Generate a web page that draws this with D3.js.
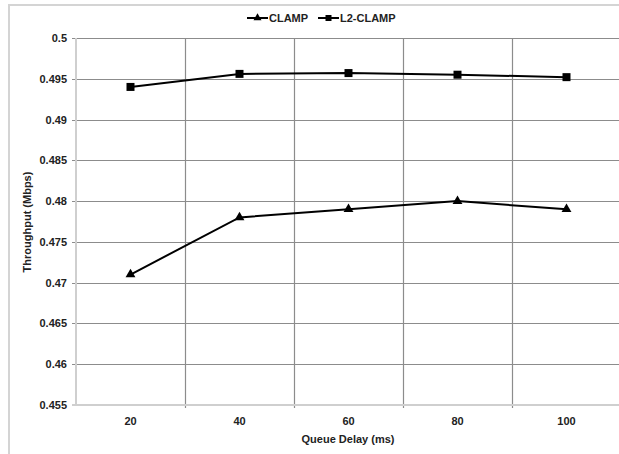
<!DOCTYPE html>
<html>
<head>
<meta charset="utf-8">
<script src="https://cdn.jsdelivr.net/npm/d3@7"></script>
<style>
  body { margin: 0; background: #fff; }
  svg { display: block; font-family: Arial, "Liberation Sans", sans-serif; }
</style>
</head>
<body>
<div id="chart"></div>
<script>
const w = 619;
const h = 454;

var delays = ["20", "40", "60", "80", "100"];
var clamp = [0.471, 0.478, 0.479, 0.480, 0.479];
var l2clamp = [0.494, 0.4956, 0.4957, 0.4955, 0.4952];
var yTicks = [0.455, 0.46, 0.465, 0.47, 0.475, 0.48, 0.485, 0.49, 0.495, 0.5];

var margin = { left: 76, top: 38, right: -2, bottom: 49 };

var svg = d3.select("#chart")
    .append("svg")
    .attr("width", w)
    .attr("height", h);

// outer frame
svg.append("rect")
    .attr("x", 9).attr("y", 5)
    .attr("width", 640).attr("height", 480)
    .attr("fill", "none")
    .attr("stroke", "#d4d4d4")
    .attr("stroke-width", 2);

var x = d3.scaleBand()
    .domain(delays)
    .range([margin.left, w - margin.right]);

var y = d3.scaleLinear()
    .domain([0.455, 0.5])
    .range([h - margin.bottom, margin.top]);

// horizontal gridlines
svg.selectAll("line.hgrid")
    .data(yTicks.slice(1))
    .enter()
    .append("line")
    .attr("class", "hgrid")
    .attr("x1", margin.left - 4)
    .attr("x2", w)
    .attr("y1", function(d) { return Math.round(y(d)) + 0.5; })
    .attr("y2", function(d) { return Math.round(y(d)) + 0.5; })
    .attr("stroke", "#8c8c8c")
    .attr("stroke-width", 1.2);

// vertical gridlines between categories
svg.selectAll("line.vgrid")
    .data(delays.slice(1))
    .enter()
    .append("line")
    .attr("class", "vgrid")
    .attr("x1", function(d) { return Math.round(x(d)) + 0.5; })
    .attr("x2", function(d) { return Math.round(x(d)) + 0.5; })
    .attr("y1", y(0.5))
    .attr("y2", y(0.455) + 3)
    .attr("stroke", "#8c8c8c")
    .attr("stroke-width", 1.2);

// axes (light gray)
svg.append("line")
    .attr("x1", margin.left).attr("x2", margin.left)
    .attr("y1", y(0.5)).attr("y2", y(0.455) + 1)
    .attr("stroke", "#cfcfcf").attr("stroke-width", 2);
svg.append("line")
    .attr("x1", margin.left - 4).attr("x2", w)
    .attr("y1", y(0.455)).attr("y2", y(0.455))
    .attr("stroke", "#cfcfcf").attr("stroke-width", 2);

// y tick labels
svg.selectAll("text.ytick")
    .data(yTicks)
    .enter()
    .append("text")
    .attr("class", "ytick")
    .attr("x", margin.left - 9)
    .attr("y", function(d) { return y(d) + 4; })
    .attr("text-anchor", "end")
    .attr("font-size", 11)
    .attr("font-weight", "bold")
    .attr("fill", "#222")
    .text(function(d) { return d3.format("")(+d.toFixed(3)); });

// x tick labels
svg.selectAll("text.xtick")
    .data(delays)
    .enter()
    .append("text")
    .attr("class", "xtick")
    .attr("x", function(d) { return x(d) + x.bandwidth() / 2; })
    .attr("y", y(0.455) + 20)
    .attr("text-anchor", "middle")
    .attr("font-size", 11)
    .attr("font-weight", "bold")
    .attr("fill", "#222")
    .text(function(d) { return d; });

// axis titles
svg.append("text")
    .attr("x", 348)
    .attr("y", 443)
    .attr("text-anchor", "middle")
    .attr("font-size", 11)
    .attr("font-weight", "bold")
    .attr("fill", "#222")
    .text("Queue Delay (ms)");

svg.append("text")
    .attr("transform", "translate(31," + 222 + ") rotate(-90)")
    .attr("text-anchor", "middle")
    .attr("font-size", 11)
    .attr("font-weight", "bold")
    .attr("fill", "#222")
    .text("Throughput (Mbps)");

var line = d3.line()
    .x(function(d, i) { return x(delays[i]) + x.bandwidth() / 2; })
    .y(function(d) { return y(d); });

var tri = d3.symbol().type(d3.symbolTriangle).size(42);
var sq = d3.symbol().type(d3.symbolSquare).size(64);

function drawSeries(values, sym) {
    svg.append("path")
        .datum(values)
        .attr("fill", "none")
        .attr("stroke", "#000")
        .attr("stroke-width", 2)
        .attr("d", line);
    svg.selectAll(null)
        .data(values)
        .enter()
        .append("path")
        .attr("transform", function(d, i) {
            return "translate(" + (x(delays[i]) + x.bandwidth() / 2) + "," + y(d) + ")";
        })
        .attr("d", sym)
        .attr("fill", "#000");
}

drawSeries(clamp, tri);
drawSeries(l2clamp, sq);

// legend
var legend = [
    { name: "CLAMP", sym: tri, x: 247 },
    { name: "L2-CLAMP", sym: sq, x: 318 }
];
var lg = svg.selectAll("g.legend")
    .data(legend)
    .enter()
    .append("g")
    .attr("class", "legend")
    .attr("transform", function(d) { return "translate(" + d.x + ",18)"; });
lg.append("line")
    .attr("x1", 0).attr("x2", 21)
    .attr("stroke", "#000").attr("stroke-width", 2);
lg.append("path")
    .attr("transform", "translate(10.5,0)")
    .attr("d", function(d) { return d.name == "CLAMP" ? d3.symbol().type(d3.symbolTriangle).size(28)() : d3.symbol().type(d3.symbolSquare).size(36)(); })
    .attr("fill", "#000");
lg.append("text")
    .attr("x", 22)
    .attr("y", 4)
    .attr("font-size", 11)
    .attr("font-weight", "bold")
    .attr("fill", "#222")
    .text(function(d) { return d.name; });
</script>
</body>
</html>
